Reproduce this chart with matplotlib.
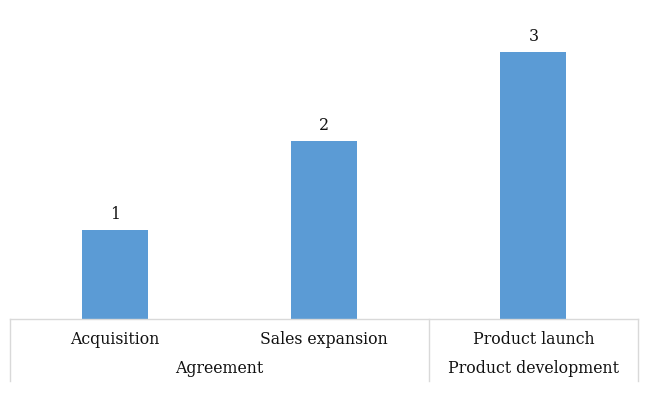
import numpy as np
import matplotlib
matplotlib.use('Agg')
import matplotlib.pyplot as plt
import matplotlib.transforms as mtransforms

categories = ['Acquisition', 'Sales expansion', 'Product launch']
values = [1, 2, 3]
groups = ['Agreement', 'Product development']
group_sizes = [2, 1]

BAR_COLOR = '#5b9bd5'
LINE_COLOR = '#d9d9d9'
TEXT_COLOR = '#111111'
FONT = 'DejaVu Serif'
FS = 11.3

fig = plt.figure(figsize=(6.51, 3.99), dpi=100)
ax = fig.add_axes([10 / 651, 80 / 399, 628 / 651, 311.5 / 399])

x = np.arange(len(categories))
bars = ax.bar(x, values, width=0.316, color=BAR_COLOR)
for b, v in zip(bars, values):
    ax.annotate(f'{v}', (b.get_x() + b.get_width() / 2, v),
                xytext=(0, 5), textcoords='offset points',
                ha='center', va='bottom', fontsize=FS, family=FONT, color=TEXT_COLOR)

ax.set_xlim(-0.5, len(categories) - 0.5)
ax.set_ylim(0, 3.5)
ax.set_xticks([])
ax.set_yticks([])
for side in ['top', 'right', 'left']:
    ax.spines[side].set_visible(False)
ax.spines['bottom'].set_color(LINE_COLOR)
ax.spines['bottom'].set_linewidth(1.0)

trans = mtransforms.blended_transform_factory(ax.transData, ax.transAxes)
# category labels
for xi, name in zip(x, categories):
    ax.text(xi, -0.065, name, transform=trans, ha='center', va='center',
            fontsize=FS, family=FONT, color=TEXT_COLOR)

# group labels and separators
start = -0.5
seps = [start]
for g, n in zip(groups, group_sizes):
    mid = start + n / 2
    ax.text(mid, -0.16, g, transform=trans, ha='center', va='center',
            fontsize=FS, family=FONT, color=TEXT_COLOR)
    start += n
    seps.append(start)

for s in seps:
    ax.plot([s, s], [0, -0.2], transform=trans, color=LINE_COLOR, lw=1.0, clip_on=False)

fig.savefig('out.png', dpi=100, facecolor='white')
